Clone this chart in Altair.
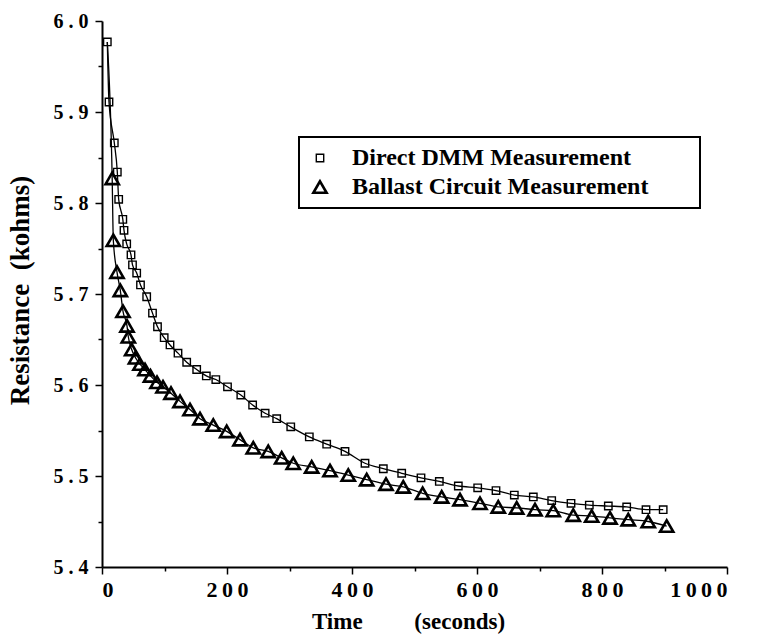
import altair as alt
import pandas as pd

series_names = ["Direct DMM Measurement", "Ballast Circuit Measurement"]

dmm_time = [8.5, 11.2, 19.7, 24.5, 26.7, 33.3, 35.2, 39.5, 46.4, 48.8, 55.5, 61.6,
            71.5, 80.8, 88.8, 99.5, 108.8, 121.6, 135.5, 151.5, 166.9, 182.1, 200.8,
            222.1, 241, 261, 279.5, 302, 331.7, 359.5, 388.8, 420.8, 450.1, 479.5,
            510.4, 539.7, 570.1, 601.1, 630.4, 659.7, 690.1, 719.5, 750.4, 779.7,
            810.1, 839.5, 870.4, 897.9]
dmm_res = [5.977, 5.911, 5.866, 5.834, 5.804, 5.782, 5.770, 5.755, 5.743, 5.732, 5.723, 5.710,
           5.697, 5.679, 5.664, 5.652, 5.644, 5.635, 5.625, 5.617, 5.610, 5.606, 5.598,
           5.589, 5.578, 5.569, 5.563, 5.554, 5.543, 5.535, 5.527, 5.514, 5.508, 5.503,
           5.498, 5.494, 5.489, 5.487, 5.484, 5.479, 5.477, 5.473, 5.470, 5.468,
           5.467, 5.466, 5.463, 5.463]

bal_time = [16.3, 18.1, 24, 29.3, 33.6, 40, 42.1, 47.5, 53.6, 60.8, 68.8, 77.6, 88, 97.6,
            110.4, 124.8, 140.8, 156.8, 178, 199.5, 220.8, 242, 266, 287.5, 306, 335.5,
            364.8, 394, 423.5, 454.4, 482, 513, 543.5, 572.8, 604.8, 634, 663.5, 692.8,
            722, 754, 783.5, 812.8, 842, 874, 903.5]
bal_res = [5.827, 5.759, 5.724, 5.704, 5.681, 5.665, 5.653, 5.639, 5.630, 5.623, 5.617, 5.610,
           5.603, 5.598, 5.591, 5.582, 5.573, 5.563, 5.556, 5.549, 5.540, 5.531, 5.527,
           5.520, 5.514, 5.510, 5.506, 5.501, 5.496, 5.491, 5.488, 5.481, 5.477, 5.474,
           5.470, 5.466, 5.465, 5.463, 5.462, 5.457, 5.456, 5.454, 5.452, 5.450, 5.445]

# Both fitted curves start from the first reading at the top of the plot
bal_line_start_time = [8.5]
bal_line_start_res = [5.977]

x_ticks = list(range(0, 1001, 100))
y_ticks = [round(5.4 + 0.05 * i, 2) for i in range(13)]

pts = pd.DataFrame(
    [{"time": t, "res": r, "series": series_names[0]} for t, r in zip(dmm_time, dmm_res)]
    + [{"time": t, "res": r, "series": series_names[1]} for t, r in zip(bal_time, bal_res)]
)
lines = pd.DataFrame(
    [{"time": t, "res": r, "series": series_names[0]} for t, r in zip(dmm_time, dmm_res)]
    + [{"time": t, "res": r, "series": series_names[1]}
       for t, r in zip(bal_line_start_time + bal_time, bal_line_start_res + bal_res)]
)

FONT = "Liberation Serif"
NB = "\u00a0"

common_axis = dict(
    labelFont=FONT, labelFontWeight="bold", labelColor="black",
    titleFont=FONT, titleFontWeight="bold", titleColor="black",
    domainColor="black", domainWidth=2, tickColor="black", tickWidth=1.5,
    grid=False,
)

x_enc = alt.X(
    "time:Q",
    scale=alt.Scale(domain=[0, 1000], nice=False, zero=False),
    axis=alt.Axis(
        values=x_ticks,
        labelExpr="datum.value % 200 == 0 ? join(split(format(datum.value, 'd'), ''), '\u2009') : ''",
        title="Time" + NB * 9 + "(seconds)",
        titleX=306, titleY=61, titleBaseline="alphabetic", titleAlign="center",
        titleFontSize=23,
        tickSize={"condition": {"test": "datum.value % 200 == 0", "value": 7}, "value": 4},
        labelFontSize=22, labelPadding=5, labelBaseline="top",
        **common_axis,
    ),
)
y_enc = alt.Y(
    "res:Q",
    scale=alt.Scale(domain=[5.4, 6.0], nice=False, zero=False),
    axis=alt.Axis(
        values=y_ticks,
        labelExpr="abs(datum.value*10 - round(datum.value*10)) < 0.001 ? replace(format(datum.value, '.1f'), '.', '\u00a0.\u00a0') : ''",
        title="Resistance" + NB * 2 + "(kohms)",
        titleX=-74, titleY=269, titleBaseline="alphabetic", titleAlign="center", titleAngle=-90,
        titleFontSize=27,
        tickSize={"condition": {"test": "abs(datum.value*10 - round(datum.value*10)) < 0.001", "value": 7}, "value": 4},
        labelFontSize=20, labelPadding=7, labelBaseline="middle",
        **common_axis,
    ),
)

line_layer = alt.Chart(lines).mark_line(color="black", strokeWidth=1.3, interpolate="monotone").encode(
    x=x_enc, y=y_enc, detail="series:N"
)

point_layer = alt.Chart(pts).mark_point(filled=False, color="black", opacity=1).encode(
    x=x_enc,
    y=y_enc,
    shape=alt.Shape(
        "series:N",
        scale=alt.Scale(domain=series_names, range=["square", "triangle-up"]),
        legend=alt.Legend(
            orient="none", legendX=197, legendY=116, title=None,
            labelFont=FONT, labelFontSize=24, labelFontWeight="bold", labelColor="black",
            labelLimit=700,
            # pad the right side of the legend box (Vega trims plain trailing whitespace)
            labelExpr="datum.label + '\\u00a0\\u00a0\\u00a0\\u00a0\\u00a0\\u00a0\\u00a0\\u200b'",
            strokeColor="black", padding=9, rowPadding=5, labelOffset=20, symbolOffset=0,
            symbolStrokeColor="black", symbolFillColor="transparent",
        ),
    ),
    size=alt.Size("series:N", scale=alt.Scale(domain=series_names, range=[55, 175])),
    strokeWidth=alt.StrokeWidth("series:N", scale=alt.Scale(domain=series_names, range=[1.4, 2.6])),
)

chart = alt.layer(line_layer, point_layer).properties(
    width=625, height=546,
    autosize=alt.AutoSizeParams(type="none"),
    padding={"left": 102, "top": 21, "right": 30, "bottom": 70},
    background="white",
).configure_view(stroke=None).configure_legend(strokeWidth=2)

chart.save("out.html", embed_options={"renderer": "svg", "actions": False})
